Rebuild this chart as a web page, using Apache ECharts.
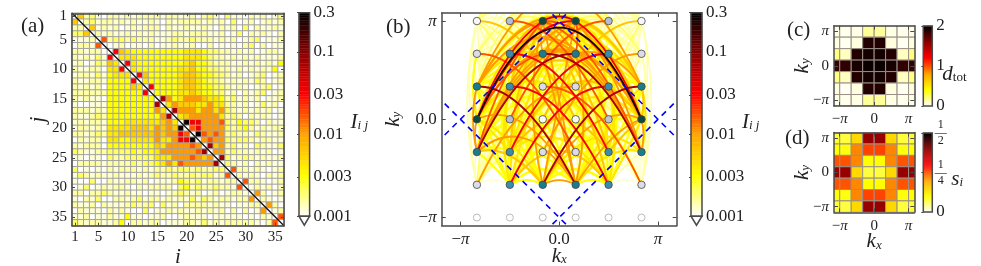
<!DOCTYPE html>
<html><head><meta charset="utf-8">
<style>html,body{margin:0;padding:0;background:#fff}#c{width:981px;height:266px}</style>
<script src="https://cdn.jsdelivr.net/npm/echarts@6/dist/echarts.min.js"></script>
</head><body><div id="c"></div>
<script>
// ---- data: panel (a) / (b), correlation level codes, upper triangle, row i = columns i+1..36
const levelValues = {0:.001,1:.0012,2:.0015,3:.002,4:.003,5:.0042,6:.0062,7:.0105,8:.017,9:.033,a:.075,b:.26};
const upperRows = [
"62310 22121222 2122 1120 2310 3110212013",
"2312 21212112 1021 2222 1212 0301201212",
"612 12012122 2021 1211 2102 1203021121",
"21 21121212 1112 2122 2112 0130212102",
"8 23323222 1123 2232 2212 1201230112",
"01201102 0112 1120 0201 0102302011",
"9654444 4444 4555 4332 2121201221",
"555444 4444 4555 4322 1212121112",
"95444 4444 4564 4322 2112121214",
"5444 4444 5564 4332 2121212140",
"964 4444 5665 4433 2120123012",
"54 4444 5665 4332 1212132012",
"9 4444 5665 4433 2121012301",
"4444 5565 4433 1202123012",
"a74 5777 6554 2312120112",
"57 6665 5755 2212013120",
"a 7775 7757 3212121201",
"5677 7775 2320212101",
"b99 7778 3243320211",
"89 7777 3234212122",
"b 8787 2322132112",
"7877 3233212211",
"a67 2312032113",
"77 2322121201",
"a 3123212112",
"3212021211",
"822121012",
"21210212",
"8221012",
"121202",
"72012",
"2101",
"720",
"12",
"8"
];
const siteLabels = Array.from({length:36},(_,k)=>String(k+1));
const matrixTicks = [1,5,10,15,20,25,30,35];
const diagonalLine = [[.5,.5],[36.5,36.5]];
// momentum of each site, in units of pi/6
const siteKx = [-5,1,5,-1,-3,3,-3,3,3,-3,-3,3,3,-3,-1,5,1,-5,-5,5,-1,1,-5,1,5,-1,3,-3,-5,1,5,-1,-5,1,5,-1];
const siteKy = [6,0,6,0,6,0,-4,2,-4,2,-2,4,-2,4,-4,2,-4,2,0,0,6,6,-2,4,-2,4,6,0,4,-2,4,-2,-4,2,-4,2];
const siteClass = "wwwwgcbbbbbbbbttttddddttttggllllllll";
const classColor = {w:'#f8f8f8',g:'#b4bcd6',c:'#c0c4d8',b:'#3a8cae',t:'#1a7c8c',d:'#0c4a3e',l:'#dcdce8'};
const arcOverride = {'21-22':.05};
const ghostKx = [-5,-3,-1,1,3,5];
const fermiSegments = [[[-1.16,-.16],[.08,1.08]],[[1.16,-.16],[-.08,1.08]],[[-1.16,.16],[.08,-1.08]],[[1.16,.16],[-.08,-1.08]]];
// ---- data: panels (c), (d); columns at kx=-7..7 (pi/6 units), rows at ky=6..-6
const colKx = [-7,-5,-3,-1,1,3,5,7];
const rowKy = [6,4,2,0,-2,-4,-6];
const dTot = [
[.04,.03,.04,.16,.16,.04,.03,.04],
[.05,.02,.05,1.9,1.9,.05,.02,.05],
[.2,.1,1.9,1.94,1.94,1.9,.1,.2],
[1.85,1.86,1.93,1.97,1.97,1.93,1.86,1.85],
[.2,.1,1.9,1.94,1.94,1.9,.1,.2],
[.05,.02,.05,1.9,1.9,.05,.02,.05],
[.04,.03,.04,.16,.16,.04,.03,.04]];
const sI = [
[.08,.075,.143,.39,.39,.143,.075,.08],
[.1,.095,.218,.26,.26,.218,.095,.1],
[.25,.25,.218,.1,.1,.218,.25,.25],
[.39,.39,.143,.075,.075,.143,.39,.39],
[.25,.25,.218,.1,.1,.218,.25,.25],
[.1,.095,.218,.26,.26,.218,.095,.1],
[.08,.075,.143,.39,.39,.143,.075,.08]];
// ---- style
const SERIF = '"Liberation Serif","DejaVu Serif",serif';
const INK = '#222', FRAME = '#4a4a4a';
const palette = ['#ffffff','#ffff00','#ffa500','#ff0000','#8b0000','#000000'];
const hex = c=>[1,3,5].map(k=>parseInt(c.substr(k,2),16));
function cmap(t){t=Math.max(0,Math.min(1,t));const f=t*5,k=Math.min(4,Math.floor(f)),u=f-k,a=hex(palette[k]),b=hex(palette[k+1]);
  return 'rgb('+a.map((v,q)=>Math.round(v+(b[q]-v)*u)).join(',')+')';}
const LMIN=-3, LMAX=Math.log10(.3), logT=v=>(Math.log10(v)-LMIN)/(LMAX-LMIN);
const richBase = {
  i:{fontFamily:SERIF,fontStyle:'italic',fontSize:21,color:INK},
  s:{fontFamily:SERIF,fontStyle:'italic',fontSize:13,color:INK,padding:[7,0,0,0]},
  u:{fontFamily:SERIF,fontSize:13,color:INK,padding:[7,0,0,0]},
  m:{fontFamily:SERIF,fontStyle:'italic',fontSize:17,color:INK},
  n:{fontFamily:SERIF,fontSize:17,color:INK},
  c:{fontFamily:SERIF,fontSize:12,color:INK,width:9,align:'center',lineHeight:8}
};
const grids=[],xAxes=[],yAxes=[],series=[];
const frameLine={show:true,onZero:false,lineStyle:{color:FRAME,width:1.5}};
function tick(vals,len){const o={show:true,inside:true,length:len||3,lineStyle:{color:FRAME,width:1}};if(vals)o.customValues=vals;return o;}
function addGrid(l,t,w,h){grids.push({left:l,top:t,width:w,height:h,show:false,containLabel:false,outerBoundsMode:'none'});return grids.length-1;}
function piLabel(zero,size,margin){return {customValues:[-1,0,1],margin,fontFamily:SERIF,fontSize:size,color:INK,rich:Object.assign({},richBase,{m:Object.assign({},richBase.m,{fontSize:size}),n:Object.assign({},richBase.n,{fontSize:size})}),
  formatter:v=>v===0?'{n|'+zero+'}':(v<0?'{n|−}{m|π}':'{m|π}')};}
function piPanel(rect,xr,yr,zero,size,xMargin,xname,yname){
  const g=addGrid(...rect);
  const base={type:'value',gridIndex:g,splitLine:{show:false},axisLine:frameLine,axisTick:tick([-1,0,1],4),z:5};
  const xi=xAxes.length;
  xAxes.push(Object.assign({},base,{position:'bottom',min:-xr,max:xr,axisLabel:piLabel(zero,size,xMargin)},xname?{name:xname.text,nameLocation:'middle',nameGap:xname.gap,nameMoveOverlap:false,nameTextStyle:{rich:richBase}}:{}));
  xAxes.push(Object.assign({},base,{position:'top',min:-xr,max:xr,axisLabel:{show:false}}));
  const yi=yAxes.length;
  yAxes.push(Object.assign({},base,{position:'left',min:-yr,max:yr,axisLabel:piLabel(zero,size,5),name:yname.text,nameLocation:'middle',nameGap:yname.gap,nameRotate:90,nameMoveOverlap:false,nameTextStyle:{rich:richBase}}));
  yAxes.push(Object.assign({},base,{position:'right',min:-yr,max:yr,axisLabel:{show:false}}));
  return {xi,yi};
}
function colorbar(rect,min,max,ticks,fmt,name,gap,fontSize,extend,rich,nameDrop){
  const g=addGrid(...rect);
  const xi=xAxes.length,yi=yAxes.length;
  xAxes.push({type:'value',gridIndex:g,min:0,max:1,show:false});
  yAxes.push({type:'value',gridIndex:g,position:'right',min,max,splitLine:{show:false},axisLine:{show:false},
    axisTick:tick(ticks,2),z:6,
    axisLabel:{customValues:ticks,formatter:fmt,margin:4,fontFamily:SERIF,fontSize,color:INK,rich:rich||undefined},
    name,nameLocation:'middle',nameRotate:0,nameGap:gap,nameMoveOverlap:false,nameTextStyle:{rich:richBase,align:'left',padding:[nameDrop||0,0,0,0]}});
  const steps=Array.from({length:80},(_,k)=>[min+(max-min)*k/80,min+(max-min)*(k+1)/80,(k+.5)/80]);
  series.push({type:'custom',xAxisIndex:xi,yAxisIndex:yi,clip:false,silent:true,z:2,data:steps,
    renderItem:(p,api)=>{const a=api.coord([0,api.value(1)]),b=api.coord([1,api.value(0)]);const col=cmap(api.value(2));
      return {type:'rect',shape:{x:a[0],y:a[1],width:b[0]-a[0],height:b[1]-a[1]},style:{fill:col,stroke:col,lineWidth:.4}};}});
  series.push({type:'custom',xAxisIndex:xi,yAxisIndex:yi,clip:false,silent:true,z:3,data:[[min,max]],
    renderItem:(p,api)=>{const a=api.coord([0,max]),b=api.coord([1,min]);
      const kids=[{type:'rect',shape:{x:a[0],y:a[1],width:b[0]-a[0],height:b[1]-a[1]},style:{fill:null,stroke:FRAME,lineWidth:1.5}}];
      if(extend){kids.unshift({type:'polygon',shape:{points:[[a[0],b[1]],[b[0],b[1]],[(a[0]+b[0])/2,b[1]+extend]]},style:{fill:'#fff',stroke:FRAME,lineWidth:1.5}});}
      return {type:'group',children:kids};}});
}
// ---- panel (a)
const rows=upperRows.map(r=>r.replace(/ /g,''));
const matrixLevel=(i,j)=>{if(i===j)return '0';const a=Math.min(i,j),b=Math.max(i,j);return (rows[a]||'')[b-a-1]||'0';};
const matrixData=[];
for(let i=0;i<36;i++)for(let j=0;j<36;j++)matrixData.push([i,j,Math.log10(levelValues[matrixLevel(i,j)])]);
const ga=addGrid(72,13.3,212,212.4);
const showTick=(idx)=>matrixTicks.includes(idx+1);
const matAxis={type:'category',gridIndex:ga,data:siteLabels,splitLine:{show:false},splitArea:{show:false},axisLine:frameLine,
  axisTick:{show:true,inside:true,length:3,alignWithLabel:true,interval:showTick,lineStyle:{color:FRAME}},z:5};
xAxes.push(Object.assign({},matAxis,{position:'bottom',axisLabel:{interval:showTick,margin:4,fontFamily:SERIF,fontSize:15,color:INK},name:'{i|i}',nameLocation:'middle',nameGap:21,nameMoveOverlap:false,nameTextStyle:{rich:richBase}}));
yAxes.push(Object.assign({},matAxis,{position:'left',inverse:true,axisLabel:{interval:showTick,margin:5,fontFamily:SERIF,fontSize:15,color:INK},name:'{i|j}',nameLocation:'middle',nameGap:23,nameRotate:90,nameMoveOverlap:false,nameTextStyle:{rich:richBase}}));
const xa2=xAxes.length,ya2=yAxes.length;
const ax2={type:'value',gridIndex:ga,min:.5,max:36.5,splitLine:{show:false},axisLine:frameLine,axisLabel:{show:false},axisTick:tick(matrixTicks,3),z:5};
xAxes.push(Object.assign({},ax2,{position:'top'}));
yAxes.push(Object.assign({},ax2,{position:'right',inverse:true}));
series.push({type:'heatmap',xAxisIndex:0,yAxisIndex:0,data:matrixData,silent:true,z:2,progressive:0,
  itemStyle:{borderColor:'#a2a2a2',borderWidth:1},emphasis:{disabled:true}});
series.push({type:'line',xAxisIndex:xa2,yAxisIndex:ya2,data:diagonalLine,symbol:'none',silent:true,z:4,clip:false,lineStyle:{color:'#111',width:1.3}});
colorbar([299,12.7,10.6,203.5],LMIN,LMAX,[LMAX,-1,Math.log10(.03),-2,Math.log10(.003),-3],
  v=>String(+Math.pow(10,v).toPrecision(1)),'{i|I}{s|i j}',41,17,9,null,16);
// ---- panel (b)
const pb=piPanel([441.7,13,235,212.6],1.19,1.082,'0.0',17,5,{text:'{i|k}{s|x}',gap:20},{text:'{i|k}{s|y}',gap:38});
const arcs=[];
for(let i=0;i<36;i++)for(let j=i+1;j<36;j++){
  const lv=matrixLevel(i,j); if(lv==='0')continue;
  const v=arcOverride[(i+1)+'-'+(j+1)]||levelValues[lv];
  const L=siteKx[i]<=siteKx[j]?i:j,R=L===i?j:i;
  arcs.push([siteKx[L]/6,siteKy[L]/6,siteKx[R]/6,siteKy[R]/6,v]);
}
arcs.sort((p,q)=>p[4]-q[4]);
const CENTER_X=559.2;
series.push({type:'custom',xAxisIndex:pb.xi,yAxisIndex:pb.yi,clip:true,silent:true,z:2,data:arcs,
  encode:{x:[0,2],y:[1,3]},
  renderItem:(p,api)=>{
    const a=api.coord([api.value(0),api.value(1)]),b=api.coord([api.value(2),api.value(3)]),v=api.value(4);
    const dx=Math.abs(b[0]-a[0]),dy=Math.abs(b[1]-a[1]);
    const h=.00335*dx*dx*(1-.49*dy/(dx+dy||1))+1;
    const mx=(a[0]+b[0])/2,my=(a[1]+b[1])/2;
    const side=Math.abs(mx-CENTER_X)<1?0:Math.sign(mx-CENTER_X);
    const bulge=.12*dy*side*Math.max(0,1-dx/120);
    return {type:'bezierCurve',shape:{x1:a[0],y1:a[1],x2:b[0],y2:b[1],cpx1:mx+bulge,cpy1:my-2*h},
      style:{fill:null,stroke:cmap(logT(v)),lineWidth:v>.009?1.8:(v>.0025?2.2:1.6)}};
  }});
fermiSegments.forEach(seg=>series.push({type:'line',xAxisIndex:pb.xi,yAxisIndex:pb.yi,data:seg,symbol:'none',silent:true,z:3,clip:false,
  lineStyle:{color:'#0000ff',width:1.6,type:[6,5]}}));
series.push({type:'scatter',xAxisIndex:pb.xi,yAxisIndex:pb.yi,symbolSize:7,silent:true,z:4,
  itemStyle:{color:'#fff',borderColor:'#aaaaaa',borderWidth:1},data:ghostKx.map(k=>[k/6,-1])});
series.push({type:'scatter',xAxisIndex:pb.xi,yAxisIndex:pb.yi,symbolSize:7.5,silent:true,z:5,
  data:siteKx.map((k,n)=>({value:[k/6,siteKy[n]/6],itemStyle:{color:classColor[siteClass[n]],borderColor:'#444',borderWidth:.8,opacity:1}}))});
colorbar([691,12.7,11,203.5],LMIN,LMAX,[LMAX,-1,Math.log10(.03),-2,Math.log10(.003),-3],
  v=>String(+Math.pow(10,v).toPrecision(1)),'{i|I}{s|i j}',40,17,9,null,16);
// ---- panels (c), (d)
function cellPanel(rect,vals,vmax,xn,yname){
  const pn=piPanel(rect,7/6,7/6,'0',15,6,xn,yname);
  const data=[];
  rowKy.forEach((ky,r)=>colKx.forEach((kx,c)=>data.push([kx/6,ky/6,vals[r][c]])));
  series.push({type:'custom',xAxisIndex:pn.xi,yAxisIndex:pn.yi,clip:true,silent:true,z:2,data,
    renderItem:(p,api)=>{const ctr=api.coord([api.value(0),api.value(1)]),sz=api.size([1/3,1/3]);
      return {type:'rect',shape:{x:ctr[0]-sz[0]/2,y:ctr[1]-sz[1]/2,width:sz[0],height:sz[1]},
        style:{fill:cmap(api.value(2)/vmax),stroke:'#9a9088',lineWidth:1}};}});
}
cellPanel([834,25.7,80.3,80.3],dTot,2,null,{text:'{i|k}{s|y}',gap:21});
cellPanel([834,132.6,80.3,79.7],sI,.5,{text:'{i|k}{s|x}',gap:19},{text:'{i|k}{s|y}',gap:21});
colorbar([923.3,26,9,80],0,2,[0,1,2],v=>String(v),'{i|d}{u|tot}',10,17,0,null,16);
const fracRich={c:richBase.c,z:{fontFamily:SERIF,fontSize:17,color:INK}};
colorbar([923.3,133,9,79],0,.5,[0,.25,.5],v=>v===0?'{z|0}':(v===.25?'{c|1}\n{c|—}\n{c|4}':'{c|1}\n{c|—}\n{c|2}'),'{i|s}{s|i}',19,17,0,fracRich,14);
// ---- chart
const panelTitle=(t,l,top)=>({text:t,left:l,top,textStyle:{fontFamily:SERIF,fontSize:21,fontWeight:'normal',color:INK}});
const chart=echarts.init(document.getElementById('c'),null,{renderer:'canvas'});
chart.setOption({
  animation:false,backgroundColor:'#fff',
  title:[panelTitle('(a)',16,11),panelTitle('(b)',381,12),panelTitle('(c)',782,15),panelTitle('(d)',780,123)],
  tooltip:{show:false},
  visualMap:[{show:false,type:'continuous',seriesIndex:[0],dimension:2,min:LMIN,max:LMAX,inRange:{color:palette}}],
  grid:grids,xAxis:xAxes,yAxis:yAxes,series
});
</script></body></html>
